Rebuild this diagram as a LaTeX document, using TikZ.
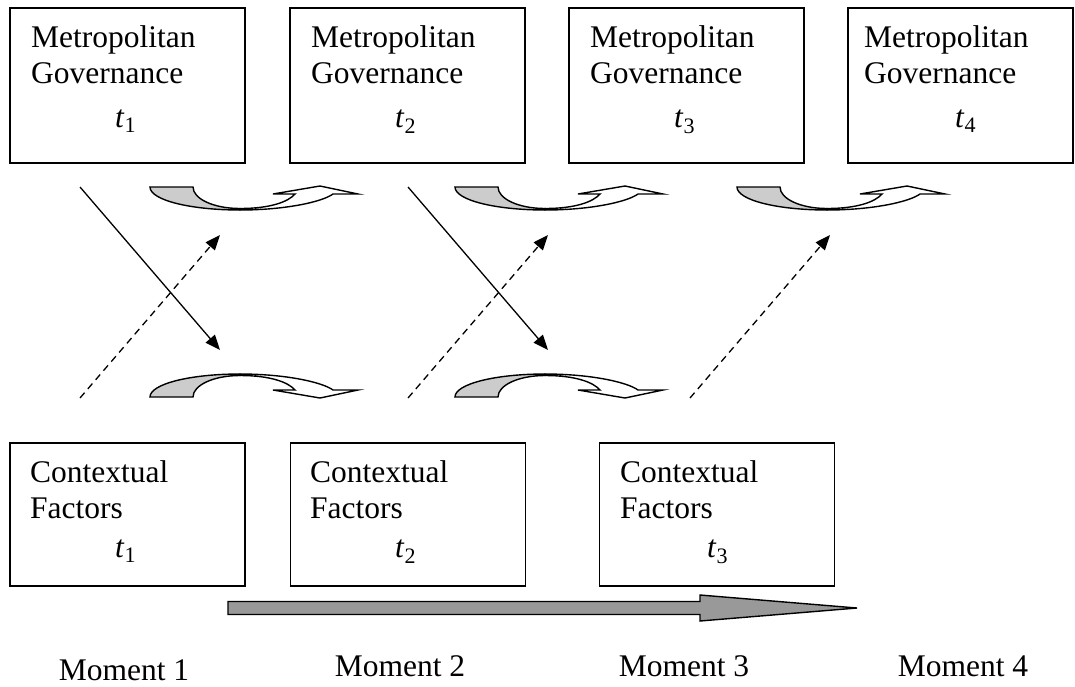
\documentclass[tikz,border=0pt]{standalone}
\usepackage{fontspec}
\setmainfont{Liberation Serif}
\usetikzlibrary{arrows.meta}
\definecolor{backgray}{gray}{0.8}
\definecolor{timegray}{gray}{0.6}
\newcommand{\txtsize}{\fontsize{31.5}{36}\selectfont}
% flat curved arrow: #1,#2 = lowest point of the band, #3 = 1 (up) or -1 (down)
\newcommand{\turnarrow}[3]{%
  \begin{scope}[shift={(#1,#2)},yscale=#3]
    \draw[bendline,fill=backgray] (-90,-23) -- (-47,-23) .. controls (-47,-11) and (-26,-1.5) .. (0,-1.5) -- (0,0) .. controls (-50,0) and (-90,-10) .. cycle;
    \draw[bendline,fill=white] (0,0) .. controls (45,0) and (82,-8) .. (93,-16) -- (118,-16) -- (80,-24) -- (33,-16) -- (55,-16) .. controls (48,-8) and (30,-1.5) .. (0,-1.5) -- cycle;
  \end{scope}}
\tikzset{
  govbox/.style={draw,line width=1.6pt,minimum width=235pt,minimum height=155pt,inner sep=0pt},
  ctxbox/.style={draw,line width=1.6pt,minimum width=235pt,minimum height=143pt,inner sep=0pt},
  boxtext/.style={anchor=base west,inner sep=0pt,font=\txtsize},
  momtext/.style={anchor=base,inner sep=0pt,font=\txtsize},
  bendline/.style={line width=1.4pt,line join=miter},
  effect/.style={->,line width=1.3pt},
  feedback/.style={->,line width=1.3pt,dash pattern=on 7pt off 5pt}
}
\begin{document}
\begin{tikzpicture}[x=1pt,y=-1pt,>={Triangle[length=15pt,width=12pt]}]
  \useasboundingbox (0,0) rectangle (1075,686);
  % governance boxes
  \node[govbox] (mg1) at (127.5,85.5) {};
  \node[boxtext] (mg1a) at (31,47) {Metropolitan};
  \node[boxtext] (mg1b) at (31,83) {Governance};
  \node[boxtext] (mg1t) at (115,127) {\textit{t}\textsubscript{1}};
  \node[govbox] (mg2) at (407.5,85.5) {};
  \node[boxtext] (mg2a) at (311,47) {Metropolitan};
  \node[boxtext] (mg2b) at (311,83) {Governance};
  \node[boxtext] (mg2t) at (395,127) {\textit{t}\textsubscript{2}};
  \node[govbox] (mg3) at (686.5,85.5) {};
  \node[boxtext] (mg3a) at (590,47) {Metropolitan};
  \node[boxtext] (mg3b) at (590,83) {Governance};
  \node[boxtext] (mg3t) at (674,127) {\textit{t}\textsubscript{3}};
  \node[govbox,minimum width=225pt] (mg4) at (960.5,85.5) {};
  \node[boxtext] (mg4a) at (864,47) {Metropolitan};
  \node[boxtext] (mg4b) at (864,83) {Governance};
  \node[boxtext] (mg4t) at (955,127) {\textit{t}\textsubscript{4}};
  % context boxes
  \node[ctxbox] (cf1) at (127.5,514.5) {};
  \node[boxtext] (cf1a) at (30,482) {Contextual};
  \node[boxtext] (cf1b) at (30,518) {Factors};
  \node[boxtext] (cf1t) at (115,557) {\textit{t}\textsubscript{1}};
  \node[ctxbox] (cf2) at (408,514.5) {};
  \node[boxtext] (cf2a) at (310,482) {Contextual};
  \node[boxtext] (cf2b) at (310,518) {Factors};
  \node[boxtext] (cf2t) at (395,557) {\textit{t}\textsubscript{2}};
  \node[ctxbox] (cf3) at (717,514.5) {};
  \node[boxtext] (cf3a) at (620,482) {Contextual};
  \node[boxtext] (cf3b) at (620,518) {Factors};
  \node[boxtext] (cf3t) at (707,557) {\textit{t}\textsubscript{3}};
  % curved arrows
  \turnarrow{240}{210}{1}
  \turnarrow{545}{210}{1}
  \turnarrow{827}{210}{1}
  \turnarrow{240}{374}{-1}
  \turnarrow{545}{374}{-1}
  % diagonal influences
  \coordinate (g1) at (80,187);   \coordinate (c1) at (220,350);
  \coordinate (g2) at (408,187);  \coordinate (c2) at (548,350);
  \coordinate (d1) at (80,398);   \coordinate (u1) at (220,235);
  \coordinate (d2) at (408,398);  \coordinate (u2) at (548,235);
  \coordinate (d3) at (690,398);  \coordinate (u3) at (830,235);
  \draw[effect] (g1) -- (c1);
  \draw[effect] (g2) -- (c2);
  \draw[feedback] (d1) -- (u1);
  \draw[feedback] (d2) -- (u2);
  \draw[feedback] (d3) -- (u3);
  % time arrow
  \draw[line width=1.4pt,fill=timegray] (228,601.5) -- (700,601.5) -- (700,595) -- (857,608) -- (700,621) -- (700,614.5) -- (228,614.5) -- cycle;
  % moments
  \node[momtext] (m1) at (124,680) {Moment 1};
  \node[momtext] (m2) at (400,676) {Moment 2};
  \node[momtext] (m3) at (684,676) {Moment 3};
  \node[momtext] (m4) at (963,676) {Moment 4};
\end{tikzpicture}
\end{document}
